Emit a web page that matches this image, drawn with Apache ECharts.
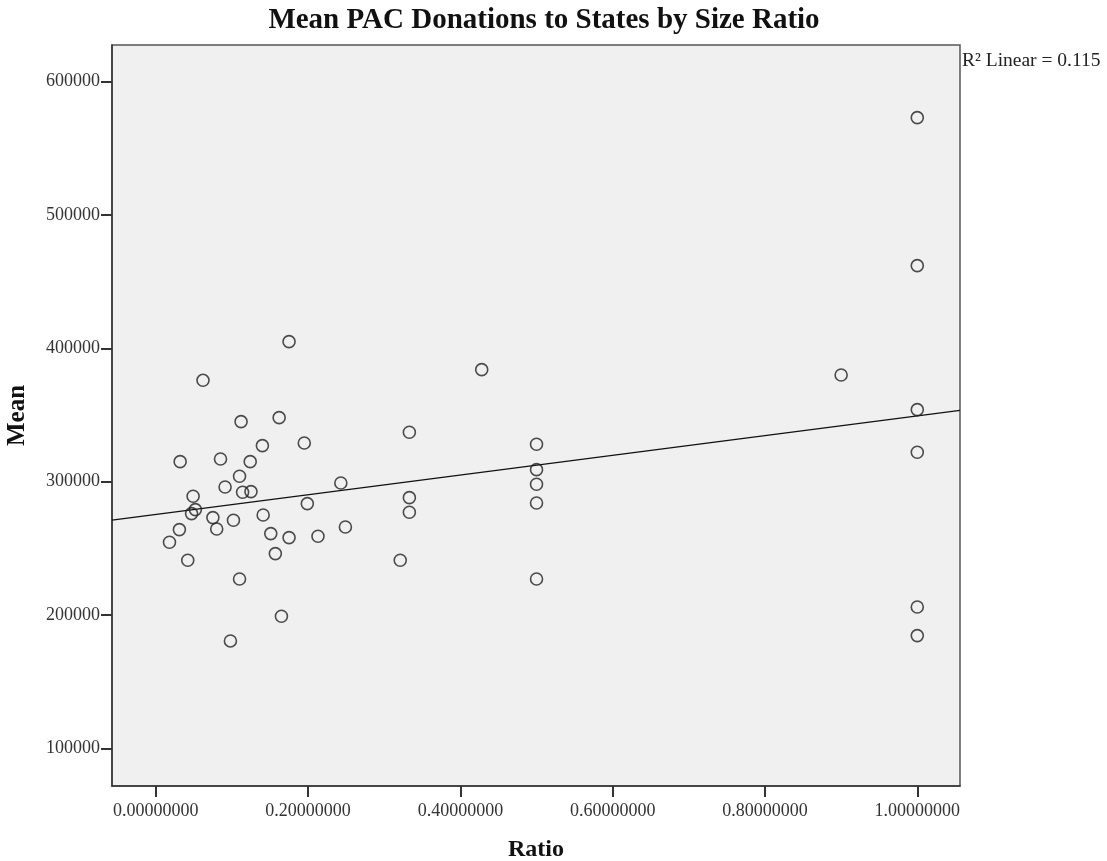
<!DOCTYPE html>
<html>
<head>
<meta charset="utf-8">
<title>Mean PAC Donations to States by Size Ratio</title>
<script src="https://cdn.jsdelivr.net/npm/echarts@6/dist/echarts.min.js"></script>
<style>
  html, body { margin: 0; padding: 0; background: #fff; }
  #chart { width: 1107px; height: 861px; }
</style>
</head>
<body>
<div id="chart"></div>
<script>
// size ratio of each state pair (x) and mean PAC donation (y)
const ratio = [
  0.175, 0.062, 0.112, 0.162, 0.140, 0.195, 0.032, 0.085, 0.124, 0.110,
  0.091, 0.114, 0.125, 0.243, 0.049, 0.199, 0.052, 0.047, 0.075, 0.102,
  0.141, 0.031, 0.080, 0.018, 0.151, 0.175, 0.213, 0.249, 0.042, 0.157,
  0.110, 0.165, 0.098,
  0.428, 0.333, 0.333, 0.333, 0.321,
  0.5, 0.5, 0.5, 0.5, 0.5,
  0.9,
  1, 1, 1, 1, 1, 1
];
const mean = [
  405000, 376000, 345000, 348000, 327000, 329000, 315000, 317000, 315000, 304000,
  296000, 292000, 292500, 299000, 289000, 283500, 279000, 276000, 273000, 271000,
  275000, 264000, 264500, 254500, 261000, 258000, 259000, 266000, 241000, 246000,
  227000, 199000, 180500,
  384000, 337000, 288000, 277000, 241000,
  328000, 309000, 298000, 284000, 227000,
  380000,
  573000, 462000, 354000, 322000, 206000, 184500
];
const xTicks = [0, 0.2, 0.4, 0.6, 0.8, 1.0];
const yTicks = [100000, 200000, 300000, 400000, 500000, 600000];
const rSquaredText = "R² Linear = 0.115";

const xMin = -0.0575, xMax = 1.0561;
const yMin = 71700, yMax = 627500;

// least squares fit line, same as the spss "fit line at total"
const n = ratio.length;
const mx = ratio.reduce((s, v) => s + v, 0) / n;
const my = mean.reduce((s, v) => s + v, 0) / n;
let sxy = 0, sxx = 0;
ratio.forEach((x, i) => {
  sxy += (x - mx) * (mean[i] - my);
  sxx += (x - mx) * (x - mx);
});
const slope = sxy / sxx;
const intercept = my - slope * mx;
const fitLine = [xMin, xMax].map((x) => [x, intercept + slope * x]);

const serif = "Liberation Serif";
const chart = echarts.init(document.getElementById("chart"));

chart.setOption({
  animation: false,
  title: {
    text: "Mean PAC Donations to States by Size Ratio",
    left: 539,
    top: 1,
    textAlign: "center",
    textStyle: { fontFamily: serif, fontSize: 29, fontWeight: "bold", color: "#111" }
  },
  grid: {
    left: 112, right: 147, top: 45, bottom: 75,
    containLabel: false,
    outerBoundsMode: "none",
    show: true,
    backgroundColor: "#f0f0f0",
    borderColor: "#555",
    borderWidth: 1.5
  },
  xAxis: {
    type: "value",
    min: xMin,
    max: xMax,
    name: "Ratio",
    nameLocation: "middle",
    nameGap: 52,
    nameTextStyle: { fontFamily: serif, fontSize: 24, fontWeight: "bold", color: "#111" },
    axisLine: { show: true, onZero: false, lineStyle: { color: "#333", width: 1.5 } },
    axisTick: { show: true, customValues: xTicks, length: 11, lineStyle: { color: "#333", width: 2 } },
    axisLabel: {
      customValues: xTicks,
      margin: 16,
      fontFamily: serif, fontSize: 18, color: "#333",
      formatter: (v) => v.toFixed(8)
    },
    splitLine: { show: false }
  },
  yAxis: {
    type: "value",
    min: yMin,
    max: yMax,
    name: "Mean",
    nameLocation: "middle",
    nameRotate: 90,
    nameGap: 82,
    nameTextStyle: { fontFamily: serif, fontSize: 25, fontWeight: "bold", color: "#111" },
    axisLine: { show: true, onZero: false, lineStyle: { color: "#333", width: 1.5 } },
    axisTick: { show: true, customValues: yTicks, length: 11, lineStyle: { color: "#333", width: 2 } },
    axisLabel: {
      customValues: yTicks,
      margin: 12,
      fontFamily: serif, fontSize: 18, color: "#333",
      formatter: (v) => String(Math.round(v))
    },
    splitLine: { show: false }
  },
  graphic: [
    {
      type: "text",
      left: 962,
      top: 51,
      style: { text: rSquaredText, font: "19.5px 'Liberation Serif'", fill: "#222" }
    }
  ],
  series: [
    {
      type: "line",
      data: fitLine,
      showSymbol: false,
      silent: true,
      lineStyle: { color: "#111", width: 1.2 },
      z: 1
    },
    {
      type: "scatter",
      data: ratio.map((x, i) => [x, mean[i]]),
      symbol: "circle",
      symbolSize: 12,
      itemStyle: { color: "rgba(0,0,0,0)", borderColor: "#222", borderWidth: 1.6 },
      z: 2
    }
  ]
});
</script>
</body>
</html>
